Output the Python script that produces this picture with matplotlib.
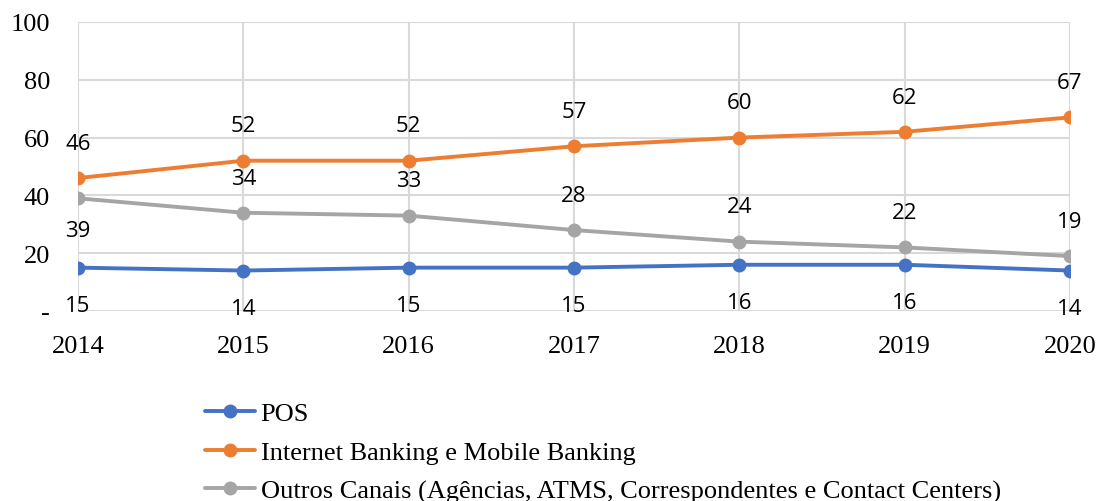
import matplotlib.pyplot as plt

years = [2014, 2015, 2016, 2017, 2018, 2019, 2020]
pos = [15, 14, 15, 15, 16, 16, 14]
internet = [46, 52, 52, 57, 60, 62, 67]
outros = [39, 34, 33, 28, 24, 22, 19]

series_names = ["POS",
                "Internet Banking e Mobile Banking",
                "Outros Canais (Agências, ATMS, Correspondentes e Contact Centers)"]
colors = ["#4472c4", "#ed7d31", "#a5a5a5"]

fig = plt.figure(figsize=(11, 5.02), dpi=100)
ax = fig.add_axes([0.0709, 0.3785, 0.9018, 0.5757])

serif = "Liberation Serif"
sans = "Open Sans"

lines = []
for vals, name, c in zip([pos, internet, outros], series_names, colors):
    l, = ax.plot(years, vals, color=c, lw=2.8, marker="o", ms=9, label=name, zorder=3,
                 solid_capstyle="round")
    lines.append(l)

# data labels
for x, v in zip(years, pos):
    ax.annotate(str(v), (x, v), xytext=(0, -27), textcoords="offset points",
                ha="center", va="center", fontsize=16, family=sans)
for x, v in zip(years, internet):
    ax.annotate(str(v), (x, v), xytext=(0, 25), textcoords="offset points",
                ha="center", va="center", fontsize=16, family=sans)
for i, (x, v) in enumerate(zip(years, outros)):
    dy = -23 if i == 0 else 25
    ax.annotate(str(v), (x, v), xytext=(0, dy), textcoords="offset points",
                ha="center", va="center", fontsize=16, family=sans)

ax.set_xlim(2014, 2020)
ax.set_ylim(0, 100)
ax.set_xticks(years)
ax.set_yticks([0, 20, 40, 60, 80, 100])
ax.set_yticklabels(["-", "20", "40", "60", "80", "100"])
for lab in ax.get_xticklabels() + ax.get_yticklabels():
    lab.set_family(serif)
    lab.set_fontsize(19)
ax.tick_params(length=0)
ax.tick_params(axis="x", pad=17)
ax.tick_params(axis="y", pad=20)
ax.grid(True, color="#d9d9d9", lw=1.5, zorder=0)
for s in ax.spines.values():
    s.set_visible(False)
ax.set_axisbelow(True)

fig.legend(handles=lines, loc="upper left", bbox_to_anchor=(0.177, 0.219),
           frameon=False, prop={"family": serif, "size": 19},
           handlelength=1.9, handletextpad=0.2, labelspacing=0.58, borderaxespad=0)

fig.savefig("out.png", dpi=100)
